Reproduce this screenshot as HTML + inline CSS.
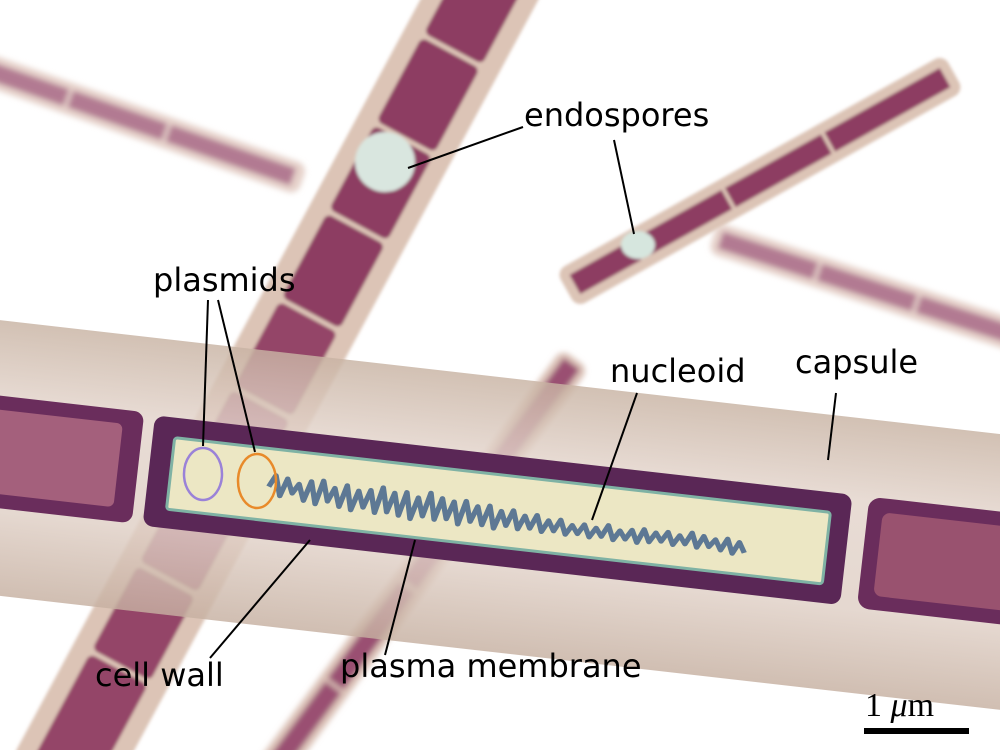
<!DOCTYPE html>
<html><head><meta charset="utf-8"><style>
html,body{margin:0;padding:0;background:#fff;width:1000px;height:750px;overflow:hidden;}
svg{display:block;}
text{font-family:"DejaVu Sans","Liberation Sans",sans-serif;font-size:32px;fill:#000;}
</style></head><body>
<svg width="1000" height="750" viewBox="0 0 1000 750" xmlns="http://www.w3.org/2000/svg">
<defs>
<filter id="b" x="-10%" y="-10%" width="120%" height="120%"><feGaussianBlur stdDeviation="3"/></filter>
<filter id="b2" x="-10%" y="-10%" width="120%" height="120%"><feGaussianBlur stdDeviation="1.5"/></filter>
<linearGradient id="cap" x1="0" y1="0" x2="0" y2="1">
<stop offset="0" stop-color="#c8b3a3"/><stop offset="0.3" stop-color="#e3d4cb"/><stop offset="0.7" stop-color="#dfcfc5"/><stop offset="1" stop-color="#c6b0a1"/>
</linearGradient>
</defs>
<rect width="1000" height="750" fill="#fff"/>

<g filter="url(#b)">
 <g transform="translate(142,124) rotate(19.3)">
  <rect x="-170" y="-16" width="340" height="32" rx="10" fill="#e6d2ca"/>
  <rect x="-165" y="-9" width="85" height="18" fill="#b27a92"/>
  <rect x="-76" y="-9" width="100" height="18" fill="#b27a92"/>
  <rect x="28" y="-9" width="132" height="18" fill="#b27a92"/>
 </g>
 <g transform="translate(865,287) rotate(18)">
  <rect x="-160" y="-16" width="330" height="32" rx="10" fill="#e6d2ca"/>
  <rect x="-152" y="-9" width="100" height="18" fill="#b27a92"/>
  <rect x="-48" y="-9" width="100" height="18" fill="#b27a92"/>
  <rect x="56" y="-9" width="120" height="18" fill="#b27a92"/>
 </g>
 <g transform="translate(427,560) rotate(126.4)">
  <rect x="-250" y="-17" width="520" height="34" rx="10" fill="#dcc3b8"/>
  <rect x="-244" y="-10" width="140" height="20" fill="#9a4f72"/>
  <rect x="-100" y="-10" width="130" height="20" fill="#9a4f72"/>
  <rect x="34" y="-10" width="120" height="20" fill="#9a4f72"/>
  <rect x="158" y="-10" width="110" height="20" fill="#9a4f72"/>
 </g>
</g>
<g filter="url(#b2)">
 <g transform="translate(280,370) rotate(118.3)">
  <rect x="-470" y="-52" width="940" height="104" rx="12" fill="#dcc4b6"/>
  <rect x="-460" y="-33" width="95" height="66" rx="6" fill="#8d3c62"/>
  <rect x="-360" y="-33" width="95" height="66" rx="6" fill="#8d3c62"/>
  <rect x="-260" y="-33" width="95" height="66" rx="6" fill="#8d3c62"/>
  <rect x="-160" y="-33" width="95" height="66" rx="6" fill="#8d3c62"/>
  <rect x="-60" y="-33" width="95" height="66" rx="6" fill="#944468"/>
  <rect x="40" y="-33" width="95" height="66" rx="6" fill="#944468"/>
  <rect x="140" y="-33" width="95" height="66" rx="6" fill="#944468"/>
  <rect x="240" y="-33" width="95" height="66" rx="6" fill="#944468"/>
  <rect x="340" y="-33" width="120" height="66" rx="6" fill="#944468"/>
 </g>
 <ellipse cx="385" cy="162" rx="30" ry="30" fill="#d9e6df"/>
 <g transform="translate(760,181) rotate(-29.2)">
  <rect x="-222" y="-21" width="444" height="42" rx="10" fill="#dcc4b6"/>
  <rect x="-212" y="-11" width="70" height="22" fill="#8d3c62"/>
  <rect x="-138" y="-11" width="100" height="22" fill="#8d3c62"/>
  <rect x="-34" y="-11" width="110" height="22" fill="#8d3c62"/>
  <rect x="80" y="-11" width="132" height="22" fill="#8d3c62"/>
 </g>
 <ellipse cx="638" cy="245" rx="17" ry="14" fill="#d6e6de"/>
</g>

<g transform="translate(500,515) rotate(6.5)">
 <rect x="-580" y="-137" width="1160" height="274" fill="url(#cap)" opacity="0.82"/>
 <rect x="-580" y="-62" width="215" height="112" rx="10" fill="#6a2d5c"/>
 <rect x="-580" y="-48" width="195" height="84" rx="6" fill="#a4607c"/>
 <rect x="-354" y="-60" width="702" height="111" rx="10" fill="#5a2756"/>
 <rect x="-332" y="-40" width="660" height="72" rx="3" fill="#ece7c4" stroke="#7fb2a4" stroke-width="3"/>
 <rect x="365" y="-60" width="215" height="112" rx="12" fill="#6a2d5c"/>
 <rect x="380" y="-46" width="200" height="84" rx="8" fill="#99526f"/>
 <path transform="translate(-233,0) scale(1.2,1)" d="M0,-2 l5,-12 l5,20 l5,-18 l5,14 l5,-10 l5,16 l5,-20 l5,22 l5,-24 l5,20 l5,-14 l5,18 l5,-22 l5,24 l5,-20 l5,16 l5,-18 l5,22 l5,-26 l5,24 l5,-20 l5,22 l5,-24 l5,26 l5,-22 l5,18 l5,-24 l5,26 l5,-22 l5,20 l5,-18 l5,22 l5,-24 l5,20 l5,-16 l5,18 l5,-20 l5,22 l5,-18 l5,14 l5,-16 l5,18 l5,-14 l5,12 l5,-14 l5,16 l5,-12 l5,10 l5,-12 l5,14 l5,-10 l5,8 l5,-10 l5,12 l5,-10 l5,8 l5,-12 l5,14 l5,-10 l5,8 l5,-10 l5,12 l5,-14 l5,12 l5,-10 l5,8 l5,-10 l5,12 l5,-10 l5,8 l5,-12 l5,14 l5,-12 l5,10 l5,-8 l5,10 l5,-12 l5,14 l5,-12 l5,10" fill="none" stroke="#5d7894" stroke-width="4.5" stroke-linejoin="round"/>
</g>
<ellipse cx="203" cy="474" rx="19" ry="26" fill="none" stroke="#9a82d8" stroke-width="2.5"/>
<ellipse cx="257" cy="481" rx="19" ry="27" fill="none" stroke="#e88a2a" stroke-width="2.5"/>

<g stroke="#000" stroke-width="2" fill="none">
 <line x1="523" y1="127" x2="408" y2="168"/>
 <line x1="614" y1="140" x2="634" y2="234"/>
 <line x1="208" y1="300" x2="203" y2="446"/>
 <line x1="218" y1="300" x2="255" y2="452"/>
 <line x1="637" y1="393" x2="592" y2="520"/>
 <line x1="836" y1="393" x2="828" y2="460"/>
 <line x1="210" y1="658" x2="310" y2="540"/>
 <line x1="385" y1="655" x2="415" y2="540"/>
</g>

<text x="524" y="126">endospores</text>
<text x="153" y="291">plasmids</text>
<text x="610" y="382">nucleoid</text>
<text x="795" y="373">capsule</text>
<text x="95" y="686">cell wall</text>
<text x="340" y="677">plasma membrane</text>
<text x="865" y="716" style="font-family:'Liberation Serif','DejaVu Serif',serif;font-size:34px;">1 <tspan font-style="italic">μ</tspan>m</text>
<rect x="864" y="728" width="105" height="6" fill="#000"/>
</svg>
</body></html>
